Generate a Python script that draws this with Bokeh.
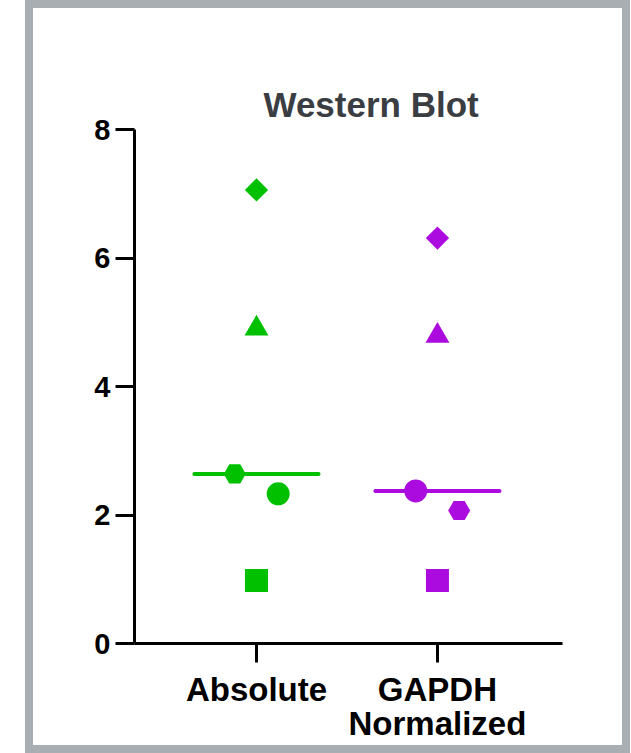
import math
from bokeh.plotting import figure
from bokeh.models import ColumnDataSource, FixedTicker, Range1d
from bokeh.embed import file_html
from bokeh.resources import INLINE

# ---- data ----
categories = ["Absolute", "GAPDH\nNormalized"]
replicate_markers = ["diamond", "triangle", "hexagon", "circle", "square"]
absolute_values = [7.06, 4.90, 2.64, 2.33, 0.98]
gapdh_values = [6.31, 4.79, 2.07, 2.375, 0.98]
absolute_jitter = [0.0, 0.0, -0.12, 0.12, 0.0]
gapdh_jitter = [0.0, 0.0, 0.12, -0.12, 0.0]
group_colors = ["#00c000", "#ac0be0"]
title_text = "Western Blot"
y_ticks = [0, 2, 4, 6, 8]

FONT = "Liberation Sans"

p = figure(width=605, height=753, output_backend="svg", toolbar_location=None,
           x_range=Range1d(0.326, 2.691), y_range=Range1d(0, 8),
           min_border_left=101, min_border_right=76, min_border_top=121,
           min_border_bottom=118)
p.styles = {"border": "8px solid #a9aeb3"}
p.margin = (0, 0, 0, 25)

marker_shape = {"diamond": ("square", 16.5, math.pi / 4), "triangle": ("triangle", 24, 0.0),
                "hexagon": ("hex", 22, 0.0), "circle": ("circle", 23, 0.0),
                "square": ("square", 23, 0.0)}

groups = [absolute_values, gapdh_values]
jitters = [absolute_jitter, gapdh_jitter]
for gi, (vals, jit) in enumerate(zip(groups, jitters)):
    xs = [gi + 1 + j for j in jit]
    src = ColumnDataSource(dict(
        x=xs, y=vals,
        marker=[marker_shape[m][0] for m in replicate_markers],
        size=[marker_shape[m][1] for m in replicate_markers],
        angle=[marker_shape[m][2] for m in replicate_markers]))
    p.scatter("x", "y", source=src, marker="marker", size="size", angle="angle",
              fill_color=group_colors[gi], line_color=group_colors[gi], line_width=0)
    med = sorted(vals)[len(vals) // 2]
    p.segment(x0=[gi + 1 - 0.343], x1=[gi + 1 + 0.343], y0=[med], y1=[med],
              line_color=group_colors[gi], line_width=4, line_cap="round")

p.title.text = title_text
p.title.align = "left"
p.title.text_font = FONT
p.title.text_font_style = "bold"
p.title.text_font_size = "35px"
p.title.text_color = "#3a3d42"
p.title.offset = 129
p.title.standoff = 11

p.xgrid.visible = False
p.ygrid.visible = False
p.outline_line_color = None

for ax in (p.xaxis[0], p.yaxis[0]):
    ax.axis_line_width = 3
    ax.axis_line_color = "black"
    ax.major_tick_line_width = 3
    ax.major_tick_line_color = "black"
    ax.major_tick_in = 0
    ax.major_tick_out = 19
    ax.minor_tick_line_color = None
    ax.major_label_text_font = FONT
    ax.major_label_text_font_style = "bold"
    ax.major_label_text_color = "black"

p.yaxis[0].ticker = FixedTicker(ticks=y_ticks)
p.yaxis[0].major_label_text_font_size = "29px"
p.yaxis[0].major_label_standoff = 5

p.xaxis[0].ticker = FixedTicker(ticks=[i + 1 for i in range(len(categories))])
p.xaxis[0].major_label_overrides = {i + 1: c for i, c in enumerate(categories)}
p.xaxis[0].major_label_text_font_size = "33px"
p.xaxis[0].major_label_text_line_height = 0.92
p.xaxis[0].major_label_standoff = 8

open("out.html", "w").write(file_html(p, INLINE))
